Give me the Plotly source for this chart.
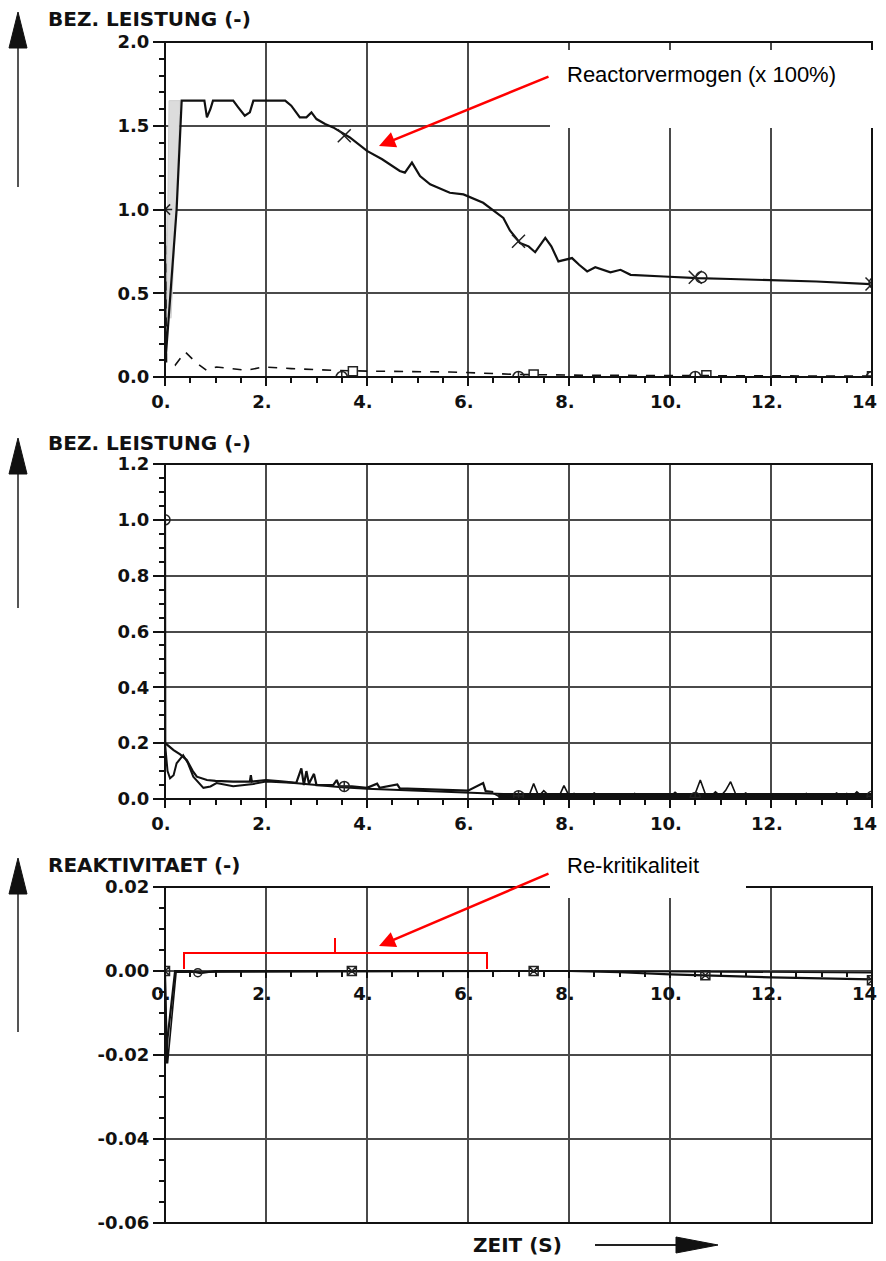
import plotly.graph_objects as go

# The page body has an 8px margin, so the figure is sized to fit the window exactly.
OFF = 8
W, H = 886 - OFF, 1261 - OFF

# ---------------- data ----------------
x_ticks = [0, 2, 4, 6, 8, 10, 12, 14]
x_ticktext = ["0.", "2.", "4.", "6.", "8.", "10.", "12.", "14."]

p1_ticks = [0.0, 0.5, 1.0, 1.5, 2.0]
p1_ticktext = ["0.0", "0.5", "1.0", "1.5", "2.0"]
p2_ticks = [0.0, 0.2, 0.4, 0.6, 0.8, 1.0, 1.2]
p2_ticktext = ["0.0", "0.2", "0.4", "0.6", "0.8", "1.0", "1.2"]
p3_ticks = [-0.06, -0.04, -0.02, 0.0, 0.02]
p3_ticktext = ["-0.06", "-0.04", "-0.02", "0.00", "0.02"]

# top panel: relative power
top_main_t = [0, 0.01, 0.06, 0.23, 0.33, 0.78, 0.83, 0.9, 0.95, 1.35, 1.45, 1.58, 1.68, 1.75, 2.38,
              2.5, 2.67, 2.8, 2.9, 3.0, 3.17, 3.33, 3.66, 4.0, 4.3, 4.65, 4.75, 4.89, 5.05, 5.25,
              5.64, 5.91, 6.3, 6.57, 6.7, 6.83, 7.03, 7.2, 7.33, 7.53, 7.65, 7.79, 8.06, 8.2, 8.36,
              8.52, 8.82, 9.02, 9.22, 9.88, 10.54, 11.2, 11.86, 12.9, 13.97]
top_main_y = [1.0, 0.1, 0.3, 1.0, 1.65, 1.65, 1.55, 1.6, 1.65, 1.65, 1.61, 1.56, 1.58, 1.65, 1.65,
              1.62, 1.55, 1.55, 1.58, 1.54, 1.51, 1.49, 1.43, 1.35, 1.3, 1.23, 1.22, 1.28, 1.2, 1.15,
              1.1, 1.09, 1.04, 0.98, 0.95, 0.875, 0.80, 0.78, 0.745, 0.83, 0.78, 0.69, 0.71, 0.67, 0.63,
              0.655, 0.625, 0.64, 0.61, 0.60, 0.59, 0.585, 0.58, 0.57, 0.555]
top_fill_t = [0.03, 0.08, 0.3, 0.22, 0.12]
top_fill_y = [0.35, 1.65, 1.65, 1.0, 0.35]
top_dash_t = [0, 0.03, 0.2, 0.4, 0.6, 0.82, 1.02, 1.3, 1.62, 1.95, 2.5, 3.33, 4.0, 5.64, 7.0, 8.5, 10.0, 12.0, 14.0]
top_dash_y = [1.0, 0.085, 0.07, 0.15, 0.09, 0.04, 0.06, 0.05, 0.04, 0.06, 0.05, 0.04, 0.035, 0.03, 0.015, 0.01, 0.008, 0.006, 0.005]
top_xmark_t = [3.55, 7.0, 10.5, 14.0]
top_xmark_y = [1.44, 0.81, 0.595, 0.555]
top_omark_t = [10.62, 14.05]
top_omark_y = [0.595, 0.56]
top_star_t = [0.0]
top_star_y = [1.0]
top_low_circ_t = [3.5, 7.0, 10.5, 14.0]
top_low_circ_y = [0.0, 0.0, 0.0, 0.0]
top_low_sq_t = [3.72, 7.3, 10.72, 14.0]
top_low_sq_y = [0.035, 0.015, 0.01, 0.005]

# middle panel: relative power (zoomed)
mid_b_t = [0, 0.005, 0.17, 0.3, 0.43, 0.55, 0.63, 0.83, 1.0, 1.35, 1.68, 1.7, 1.72, 2.0, 2.3, 2.6, 2.7,
           2.75, 2.8, 2.85, 2.95, 3.0, 3.33, 3.4, 3.45, 3.7, 4.0, 4.2, 4.25, 4.6, 4.65, 5.0, 5.64,
           6.0, 6.3, 6.35, 6.5]
mid_b_y = [1.0, 0.2, 0.175, 0.16, 0.14, 0.10, 0.08, 0.068, 0.065, 0.062, 0.062, 0.085, 0.062, 0.068,
           0.063, 0.058, 0.11, 0.05, 0.10, 0.055, 0.09, 0.05, 0.05, 0.068, 0.045, 0.045, 0.04, 0.055,
           0.04, 0.052, 0.038, 0.036, 0.033, 0.03, 0.057, 0.028, 0.025]
mid_a_t = [0, 0.05, 0.1, 0.17, 0.23, 0.36, 0.45, 0.56, 0.76, 0.9, 1.02, 1.35, 1.75, 2.0, 2.5, 3.0,
           3.5, 4.0, 5.0, 6.0, 6.7, 7.0]
mid_a_y = [0.2, 0.10, 0.074, 0.085, 0.128, 0.157, 0.13, 0.08, 0.04, 0.045, 0.057, 0.046, 0.054, 0.063,
           0.058, 0.05, 0.042, 0.037, 0.03, 0.022, 0.018, 0.012]
mid_band_t = [6.6, 14.0]
mid_band_y = [0.011, 0.011]
mid_noise_t = [6.5, 6.6, 6.7, 6.8, 6.9, 7.0, 7.1, 7.2, 7.3, 7.4, 7.5, 7.6, 7.7, 7.8, 7.9, 8.0, 8.1, 8.2,
               8.3, 8.4, 8.5, 8.6, 8.7, 8.8, 8.9, 9.0, 9.1, 9.2, 9.3, 9.4, 9.5, 9.6, 9.7, 9.8, 9.9,
               10.0, 10.1, 10.2, 10.3, 10.4, 10.5, 10.6, 10.7, 10.8, 10.9, 11.0, 11.1, 11.2, 11.3,
               11.4, 11.5, 11.6, 11.7, 11.8, 11.9, 12.0, 12.1, 12.2, 12.3, 12.4, 12.5, 12.6, 12.7,
               12.8, 12.9, 13.0, 13.1, 13.2, 13.3, 13.4, 13.5, 13.6, 13.7, 13.8, 13.9, 14.0]
mid_noise_y = [0.020, 0.010, 0.018, 0.008, 0.016, 0.010, 0.020, 0.008, 0.055, 0.010, 0.030, 0.012,
               0.018, 0.008, 0.048, 0.012, 0.020, 0.008, 0.016, 0.010, 0.022, 0.008, 0.016, 0.010,
               0.018, 0.008, 0.016, 0.010, 0.020, 0.008, 0.016, 0.008, 0.018, 0.010, 0.016, 0.008,
               0.024, 0.010, 0.018, 0.008, 0.020, 0.068, 0.018, 0.008, 0.026, 0.010, 0.030, 0.062,
               0.018, 0.010, 0.022, 0.008, 0.016, 0.010, 0.016, 0.008, 0.018, 0.010, 0.016, 0.008,
               0.016, 0.010, 0.020, 0.008, 0.016, 0.008, 0.018, 0.010, 0.022, 0.008, 0.020, 0.008,
               0.026, 0.010, 0.018, 0.012]
mid_circ_t = [0.0, 3.55, 7.0, 10.5, 14.0]
mid_circ_y = [1.0, 0.045, 0.012, 0.005, 0.01]

# bottom panel: reactivity
bot_r1_t = [0, 0.02, 0.05, 0.2, 0.5, 0.7, 1.0, 8.0, 9.0, 10.0, 12.0, 14.0]
bot_r1_y = [0.0, -0.022, -0.016, 0.0, 0.0, -0.0005, 0.0, 0.0, -0.0003, -0.0008, -0.0015, -0.002]
bot_r2_t = [0, 0.05, 0.22, 8.0, 14.0]
bot_r2_y = [0.0, -0.022, -0.0003, 0.0, -0.0004]
bot_sq_t = [0.0, 3.7, 7.3, 10.7, 14.0]
bot_sq_y = [0.0, 0.0, 0.0, -0.001, -0.0022]
bot_circ_t = [0.65]
bot_circ_y = [-0.0004]

# ---------------- layout helpers (window pixels -> paper) ----------------
def fx(p):
    return (p - OFF) / W

def fy(p):
    return 1 - (p - OFF) / H

X_DOM = [fx(165), fx(872)]
DOM1 = [fy(377), fy(42)]
DOM2 = [fy(799), fy(464)]
DOM3 = [fy(1223), fy(887)]

FONT = "DejaVu Sans"
GRID = "#4a4a4a"

fig = go.Figure()

def line(t, y, xa, ya, width=2, dash="solid", color="#111"):
    fig.add_trace(go.Scatter(x=t, y=y, xaxis=xa, yaxis=ya, mode="lines",
                             line=dict(color=color, width=width, dash=dash), showlegend=False,
                             hoverinfo="skip"))

def marks(t, y, xa, ya, symbol, size=11):
    fig.add_trace(go.Scatter(x=t, y=y, xaxis=xa, yaxis=ya, mode="markers",
                             marker=dict(symbol=symbol, size=size, color="#222",
                                         line=dict(width=1.5, color="#222")),
                             showlegend=False, hoverinfo="skip"))

# top
fig.add_trace(go.Scatter(x=top_fill_t, y=top_fill_y, xaxis="x", yaxis="y", mode="lines",
                         fill="toself", fillcolor="#dcdcdc", line=dict(color="#cfcfcf", width=1),
                         showlegend=False, hoverinfo="skip"))
line(top_dash_t, top_dash_y, "x", "y", width=1.6, dash="dash")
line(top_main_t, top_main_y, "x", "y", width=2.2)
marks(top_xmark_t, top_xmark_y, "x", "y", "x-thin-open", 13)
marks(top_omark_t, top_omark_y, "x", "y", "circle-open", 11)
marks(top_star_t, top_star_y, "x", "y", "asterisk-open", 12)
marks(top_low_circ_t, top_low_circ_y, "x", "y", "circle-cross-open", 11)
marks(top_low_sq_t, top_low_sq_y, "x", "y", "square-open", 9)

# middle
line(mid_a_t, mid_a_y, "x2", "y2", width=2)
line(mid_b_t, mid_b_y, "x2", "y2", width=2.2)
line(mid_band_t, mid_band_y, "x2", "y2", width=6)
line(mid_noise_t, mid_noise_y, "x2", "y2", width=1.6)
marks(mid_circ_t, mid_circ_y, "x2", "y2", "circle-cross-open", 10)

# bottom
line(bot_r2_t, bot_r2_y, "x3", "y3", width=1.6)
line(bot_r1_t, bot_r1_y, "x3", "y3", width=2.2)
marks(bot_sq_t, bot_sq_y, "x3", "y3", "square-x-open", 9)
marks(bot_circ_t, bot_circ_y, "x3", "y3", "circle-open", 8)

tickfont = dict(family=FONT, size=18, color="#111", weight="bold")

def xaxis(anchor, **kw):
    d = dict(domain=X_DOM, anchor=anchor, range=[0, 14], tickvals=x_ticks, ticktext=x_ticktext,
             showgrid=True, gridcolor=GRID, gridwidth=1.6, zeroline=False, showline=False,
             automargin=False, ticklabeloverflow="allow", ticklabelshift=-4,
             ticks="outside", ticklen=8, tickwidth=1.5, tickcolor="#111", tickfont=tickfont,
             minor=dict(dtick=0.5, ticks="outside", ticklen=5, tickcolor="#111", showgrid=False))
    d.update(kw)
    return d

def yaxis(anchor, dom, rng, tv, tt, mdt):
    return dict(domain=dom, anchor=anchor, range=rng, tickvals=tv, ticktext=tt,
                showgrid=True, gridcolor=GRID, gridwidth=1.6, zeroline=False, showline=False,
                automargin=False, ticklabeloverflow="allow",
                ticks="outside", ticklen=11, tickwidth=1.5, tickcolor="#111", tickfont=tickfont,
                minor=dict(dtick=mdt, ticks="outside", ticklen=5, tickcolor="#111", showgrid=False))

shapes = []
# frames
for xr, yr in [("x domain", "y domain"), ("x2 domain", "y2 domain"), ("x3 domain", "y3 domain")]:
    shapes.append(dict(type="rect", xref=xr, yref=yr, x0=0, x1=1, y0=0, y1=1,
                       line=dict(color="#111", width=2), layer="above"))

# left vertical arrows
for top, bot in [(12, 187), (438, 608), (858, 1032)]:
    shapes.append(dict(type="line", xref="paper", yref="paper", x0=fx(18), x1=fx(18),
                       y0=fy(top + 30), y1=fy(bot), line=dict(color="#555", width=2)))
    shapes.append(dict(type="path", xref="paper", yref="paper",
                       path=f"M {fx(18)},{fy(top)} L {fx(9)},{fy(top + 36)} L {fx(27)},{fy(top + 36)} Z",
                       fillcolor="#111", line=dict(color="#111", width=1)))
# ZEIT arrow
shapes.append(dict(type="line", xref="paper", yref="paper", x0=fx(595), x1=fx(690),
                   y0=fy(1245), y1=fy(1245), line=dict(color="#222", width=2)))
shapes.append(dict(type="path", xref="paper", yref="paper",
                   path=f"M {fx(718)},{fy(1245)} L {fx(676)},{fy(1237)} L {fx(676)},{fy(1253)} Z",
                   fillcolor="#111", line=dict(color="#111", width=1)))
# white boxes behind red labels
shapes.append(dict(type="rect", xref="paper", yref="paper", x0=fx(550), x1=fx(882),
                   y0=fy(128), y1=fy(50), fillcolor="white", line=dict(width=0), layer="above"))
shapes.append(dict(type="rect", xref="paper", yref="paper", x0=fx(550), x1=fx(746),
                   y0=fy(898), y1=fy(848), fillcolor="white", line=dict(width=0), layer="above"))
# red bracket
shapes.append(dict(type="path", xref="paper", yref="paper",
                   path=f"M {fx(184)},{fy(969)} L {fx(184)},{fy(953)} L {fx(487)},{fy(953)} L {fx(487)},{fy(969)}",
                   line=dict(color="#ff0000", width=2), layer="above"))
shapes.append(dict(type="line", xref="paper", yref="paper", x0=fx(335), x1=fx(335),
                   y0=fy(953), y1=fy(938), line=dict(color="#ff0000", width=2), layer="above"))

titlefont = dict(family=FONT, size=20, color="#111", weight="bold")
annotations = [
    dict(text="BEZ. LEISTUNG (-)", x=fx(46), y=fy(19), xref="paper", yref="paper",
         xanchor="left", yanchor="middle", showarrow=False, font=titlefont),
    dict(text="BEZ. LEISTUNG (-)", x=fx(46), y=fy(443), xref="paper", yref="paper",
         xanchor="left", yanchor="middle", showarrow=False, font=titlefont),
    dict(text="REAKTIVITAET (-)", x=fx(46), y=fy(865), xref="paper", yref="paper",
         xanchor="left", yanchor="middle", showarrow=False, font=titlefont),
    dict(text="ZEIT (S)", x=fx(471), y=fy(1245), xref="paper", yref="paper",
         xanchor="left", yanchor="middle", showarrow=False, font=titlefont),
    dict(text="Reactorvermogen (x 100%)", x=fx(565), y=fy(74), xref="paper", yref="paper",
         xanchor="left", yanchor="middle", showarrow=False,
         font=dict(family="Liberation Sans", size=22, color="#000")),
    dict(text="Re-kritikaliteit", x=fx(565), y=fy(865), xref="paper", yref="paper",
         xanchor="left", yanchor="middle", showarrow=False,
         font=dict(family="Liberation Sans", size=22, color="#000")),
    dict(text="", x=fx(379), y=fy(146), xref="paper", yref="paper", showarrow=True,
         ax=550 - 379, ay=76 - 146, arrowhead=2, arrowsize=1.3, arrowwidth=2.5,
         arrowcolor="#ff0000"),
    dict(text="", x=fx(379), y=fy(946), xref="paper", yref="paper", showarrow=True,
         ax=550 - 379, ay=873 - 946, arrowhead=2, arrowsize=1.3, arrowwidth=2.5,
         arrowcolor="#ff0000"),
]

fig.update_layout(
    width=W, height=H, margin=dict(l=0, r=0, t=0, b=0, pad=0, autoexpand=False),
    paper_bgcolor="white", plot_bgcolor="white", showlegend=False,
    xaxis=xaxis("y"),
    yaxis=yaxis("x", DOM1, [0, 2.0], p1_ticks, p1_ticktext, 0.1),
    xaxis2=xaxis("y2"),
    yaxis2=yaxis("x2", DOM2, [0, 1.2], p2_ticks, p2_ticktext, 0.05),
    xaxis3=xaxis("free", position=DOM3[0] + 0.75 * (DOM3[1] - DOM3[0]), ticklen=6),
    yaxis3=yaxis("x3", DOM3, [-0.06, 0.02], p3_ticks, p3_ticktext, 0.005),
    shapes=shapes, annotations=annotations,
)

fig.write_html("out.html")
